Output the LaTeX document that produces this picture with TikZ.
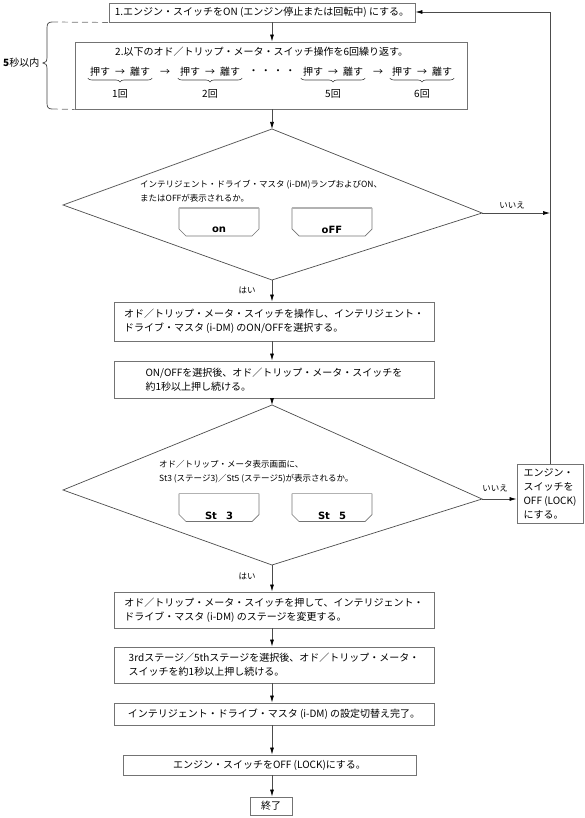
\documentclass[tikz,border=0pt]{standalone}
\usepackage{fontspec}
\setmainfont{Noto Sans CJK JP}
\newfontfamily\segfont{DejaVu Sans}
\usetikzlibrary{arrows.meta,decorations.pathreplacing}
\newcommand{\pushrel}{押す\hspace{5pt}→\hspace{5pt}離す}
\begin{document}
\begin{tikzpicture}[x=1pt,y=-1pt,
  line/.style={draw=black!70, line width=0.7pt},
  arr/.style={line, -{Latex[length=7pt,width=4pt,color=black]}},
  box/.style={draw=black!55, line width=0.9pt, align=left, inner sep=0pt,
    font=\fontsize{10}{14}\selectfont},
  dtext/.style={align=left, inner sep=0pt, font=\fontsize{8.5}{14}\selectfont},
  lbl/.style={inner sep=0pt, font=\fontsize{8.5}{10}\selectfont},
  ptext/.style={inner sep=0pt, font=\fontsize{10}{12}\selectfont},
  ubrace/.style={draw=black!75, line width=0.6pt, decorate, decoration={brace,mirror,amplitude=4pt}},
  pics/lcd/.style={code={
    \draw[black!55, line width=0.7pt] (-40,-14) -- (-40,7) -- (-33,14) -- (33,14) -- (40,7) -- (40,-14);
    \draw[black!30, line width=1.6pt] (-40,-14) -- (40,-14);
    \node[inner sep=0pt, font=\segfont\bfseries\fontsize{10}{10}\selectfont] (-t) at (0,8) {#1};
  }}
]
\useasboundingbox (0,0) rectangle (585,818);
\coordinate (ax) at (272,0);
\coordinate (fb) at (550,12);

% step 1
\node[box, minimum width=306pt, minimum height=19pt] (b1) at (262,12.5)
  {1.エンジン・スイッチをON (エンジン停止または回転中) にする。};

% step 2
\node[box, minimum width=392pt, minimum height=67pt] (b2) at (271,75.5) {};
\node[ptext, anchor=west] (t2) at (115,52) {2.以下のオド／トリップ・メータ・スイッチ操作を6回繰り返す。};
\node[ptext] (g1) at (120,72) {\pushrel};
\node[ptext] (a12) at (165,72) {→};
\node[ptext] (g2) at (210,72) {\pushrel};
\node[ptext] (dots) at (272,72) {・ ・ ・ ・};
\node[ptext] (g5) at (333,72) {\pushrel};
\node[ptext] (a56) at (378,72) {→};
\node[ptext] (g6) at (422,72) {\pushrel};
\foreach \g in {g1,g2,g5,g6}{
  \draw[ubrace] ([xshift=-2pt]\g.west |- 0,78) -- ([xshift=2pt]\g.east |- 0,78);
}
\node[ptext] (c1) at (120,94) {1回};
\node[ptext] (c2) at (210,94) {2回};
\node[ptext] (c5) at (333,94) {5回};
\node[ptext] (c6) at (422,94) {6回};

% 5 seconds brace
\node[ptext, anchor=west] (five) at (3,63) {{\bfseries 5}秒以内};
\draw[black!75, line width=0.7pt] (52,22) .. controls (48,22) and (47,24) .. (47,28) -- (47,57)
  .. controls (47,61) and (46,63) .. (43,63) .. controls (46,63) and (47,65) .. (47,69)
  -- (47,103) .. controls (47,107) and (48,109) .. (52,109);
\draw[black!55, line width=0.7pt, dash pattern=on 6pt off 4pt] (52,22) -- (b1.south west);
\draw[black!55, line width=0.7pt, dash pattern=on 6pt off 4pt] (52,109) -- (b2.south west);

% decision 1
\coordinate (d1t) at (272,129);
\coordinate (d1l) at (63,205);
\coordinate (d1r) at (482,213);
\coordinate (d1b) at (272,280);
\draw[line] (d1t) -- (d1r) -- (d1b) -- (d1l) -- cycle;
\node[dtext, anchor=west] (q1) at (140,191)
  {インテリジェント・ドライブ・マスタ (i-DM)ランプおよびON、\\またはOFFが表示されるか。};
\pic (lon) at (219,222) {lcd=on};
\pic (loff) at (332,222) {lcd=oFF};
\node[lbl] (n1) at (512,205) {いいえ};
\node[lbl] (y1) at (247,290) {はい};

% boxes 3, 4
\node[box, minimum width=320pt, minimum height=39pt] (b3) at (274,321.5)
  {オド／トリップ・メータ・スイッチを操作し、インテリジェント・\\ドライブ・マスタ (i-DM) のON/OFFを選択する。};
\node[box, minimum width=320pt, minimum height=37pt] (b4) at (274,379.5)
  {ON/OFFを選択後、オド／トリップ・メータ・スイッチを\\約1秒以上押し続ける。};

% decision 2
\coordinate (d2t) at (272,405);
\coordinate (d2l) at (63,490);
\coordinate (d2r) at (482,499);
\coordinate (d2b) at (272,565);
\draw[line] (d2t) -- (d2r) -- (d2b) -- (d2l) -- cycle;
\node[dtext, anchor=west] (q2) at (159,472)
  {オド／トリップ・メータ表示画面に、\\St3 (ステージ3)／St5 (ステージ5)が表示されるか。};
\pic (ls3) at (219,507.5) {lcd=St\hspace{9pt}3};
\pic (ls5) at (332,507.5) {lcd=St\hspace{9pt}5};
\node[lbl] (n2) at (495,488) {いいえ};
\node[lbl] (y2) at (247,576) {はい};

% side box
\node[box, minimum width=66pt, minimum height=59pt] (side) at (550,493.5)
  {エンジン・\\スイッチを\\OFF (LOCK)\\にする。};

% boxes 5-8
\node[box, minimum width=320pt, minimum height=36pt] (b5) at (274,610)
  {オド／トリップ・メータ・スイッチを押して、インテリジェント・\\ドライブ・マスタ (i-DM) のステージを変更する。};
\node[box, minimum width=320pt, minimum height=36pt] (b6) at (274,665)
  {3rdステージ／5thステージを選択後、オド／トリップ・メータ・\\スイッチを約1秒以上押し続ける。};
\node[box, minimum width=320pt, minimum height=22pt] (b7) at (274,714)
  {インテリジェント・ドライブ・マスタ (i-DM) の設定切替え完了。};
\node[box, minimum width=293pt, minimum height=20pt] (b8) at (269.5,765)
  {エンジン・スイッチをOFF (LOCK)にする。};
\node[box, minimum width=42pt, minimum height=18pt] (end) at (271,806) {終了};

% connectors
\draw[arr] (b1.south -| ax) -- (b2.north -| ax);
\draw[arr] (b2.south -| ax) -- (d1t);
\draw[arr] (d1b) -- (b3.north -| ax);
\draw[arr] (d1r) -- (d1r -| fb);
\draw[arr] (b3.south -| ax) -- (b4.north -| ax);
\draw[arr] (b4.south -| ax) -- (d2t);
\draw[arr] (d2r) -- (side.west |- d2r);
\draw[arr] (d2b) -- (b5.north -| ax);
\draw[arr] (b5.south -| ax) -- (b6.north -| ax);
\draw[arr] (b6.south -| ax) -- (b7.north -| ax);
\draw[arr] (b7.south -| ax) -- (b8.north -| ax);
\draw[arr] (b8.south -| ax) -- (end.north -| ax);
\draw[arr] (side.north) -- (fb) -- (b1.east |- fb);
\end{tikzpicture}
\end{document}
